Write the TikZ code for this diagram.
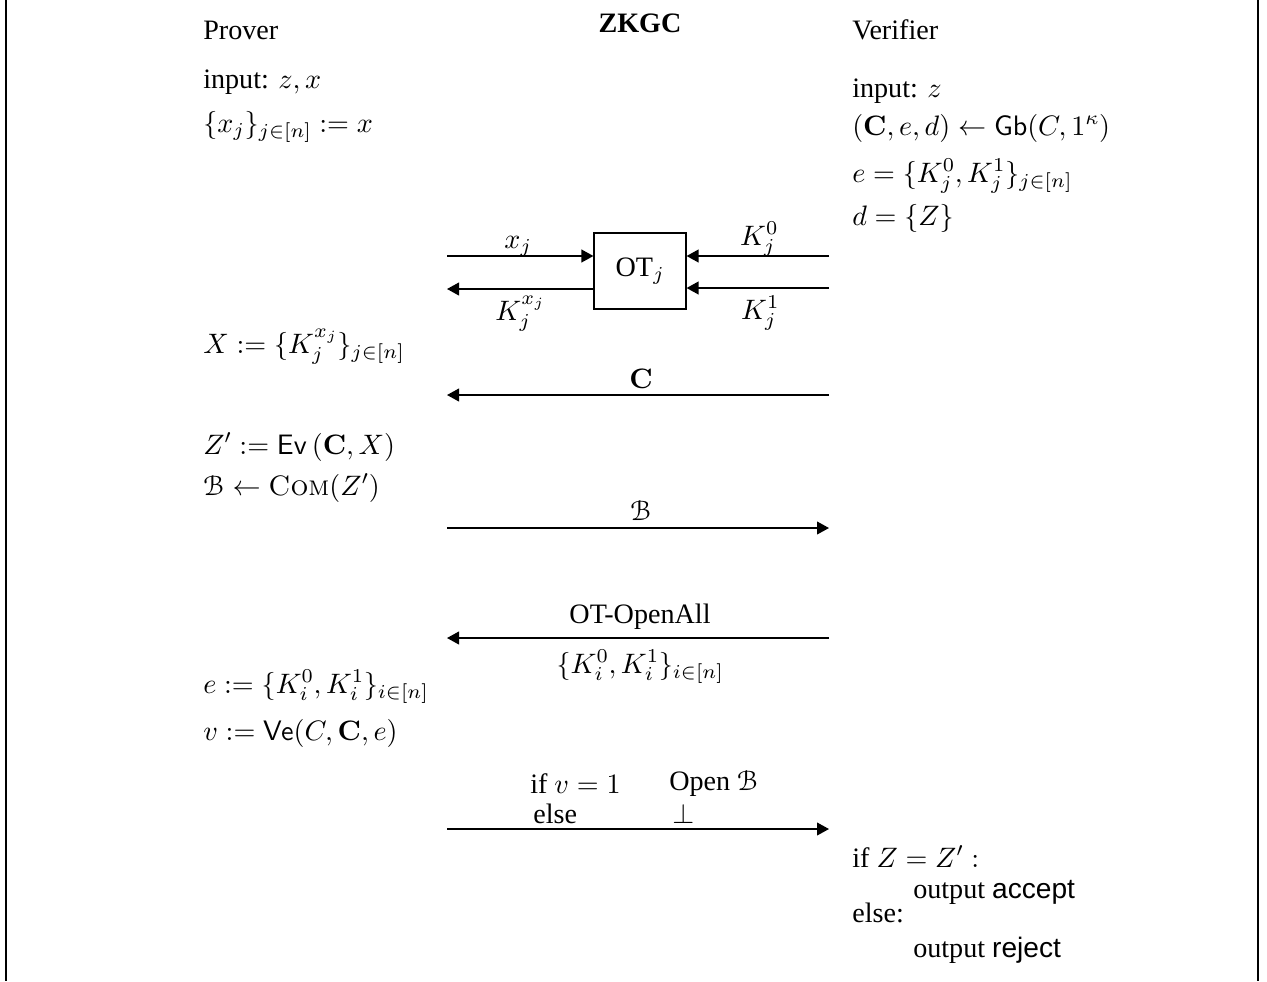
\documentclass[tikz,border=0pt]{standalone}
\usepackage{amsmath}
\usepackage{eucal}
\usepackage[no-math]{fontspec}
\setmainfont{Liberation Serif}
\newfontfamily\helv{Liberation Sans}
\usetikzlibrary{arrows.meta}
\DeclareFontShape{OT1}{cmr}{m}{n}{<-11> cmr5 <11-17> cmr7 <17-> cmr10}{}
\DeclareFontShape{OT1}{cmr}{bx}{n}{<-11> cmbx5 <11-17> cmbx7 <17-> cmbx10}{}
\DeclareFontShape{OT1}{cmr}{m}{sc}{<-> cmcsc10}{}
\DeclareFontShape{OML}{cmm}{m}{it}{<-11> cmmi5 <11-17> cmmi7 <17-> cmmi10}{}
\DeclareFontShape{OMS}{cmsy}{m}{n}{<-11> cmsy5 <11-17> cmsy7 <17-> cmsy10}{}
\DeclareFontShape{OT1}{cmss}{m}{n}{<-17> cmss8 <17-> cmss10}{}
\DeclareFontShape{OMX}{cmex}{m}{n}{<-> cmex10}{}
\DeclareMathSizes{20}{20}{14}{10}
\newcommand{\cmsc}[1]{\text{\fontencoding{OT1}\fontfamily{cmr}\fontseries{m}\fontshape{sc}\selectfont #1}}
\begin{document}
\begin{tikzpicture}[x=0.025cm,y=-0.025cm,
  every node/.style={font=\fontsize{20}{24}\selectfont, inner sep=0pt},
  txt/.style={anchor=base west},
  lbl/.style={anchor=base},
  msg/.style={line width=1.1pt, -{Triangle[length=0.3cm,width=0.32cm]}},
  otbox/.style={draw, line width=0.8pt, minimum width=2.3cm, minimum height=1.9cm},
  frame/.style={line width=0.8pt}]
\useasboundingbox (0,0) rectangle (1267,981);
\coordinate (fl1) at (6,0); \coordinate (fl2) at (6,981);
\coordinate (fr1) at (1258,0); \coordinate (fr2) at (1258,981);
\draw[frame] (fl1) -- (fl2);
\draw[frame] (fr1) -- (fr2);

% headers
\node[lbl] (zkgc) at (640,32) {\textbf{ZKGC}};
\node[txt] (prover) at (203,39) {Prover};
\node[txt] (verifier) at (852,39) {Verifier};

% prover start
\node[txt] (pin) at (203,88) {input: $z,x$};
\node[txt] (pxj) at (203,132) {$\{x_j\}_{j\in[n]} := x$};

% verifier start
\node[txt] (vin) at (852,97) {input: $z$};
\node[txt] (vgb) at (852,135) {$(\mathbf{C},e,d) \leftarrow \mathsf{Gb}(C,1^\kappa)$};
\node[txt] (ve) at (852,182) {$e = \{K_j^0,K_j^1\}_{j\in[n]}$};
\node[txt] (vd) at (852,225) {$d = \{Z\}$};

% OT
\node[otbox] (ot) at (640,271) {OT$_j$};
\coordinate (a1) at (447,256);
\coordinate (a2) at (447,289);
\coordinate (b1) at (829,256);
\coordinate (b2) at (829,288);
\draw[msg] (a1) -- (a1 -| ot.west);
\draw[msg] (a2 -| ot.west) -- (a2);
\draw[msg] (b1) -- (b1 -| ot.east);
\draw[msg] (b2) -- (b2 -| ot.east);
\node[lbl] (lxj) at (518,248) {$x_j$};
\node[lbl] (lkx) at (520,320) {$K_j^{x_j}$};
\node[lbl] (lk0) at (759,245) {$K_j^0$};
\node[lbl] (lk1) at (760,319) {$K_j^1$};

\node[txt] (px) at (203,353) {$X := \{K_j^{x_j}\}_{j\in[n]}$};

% C
\coordinate (c1) at (829,395);
\coordinate (c2) at (447,395);
\draw[msg] (c1) -- (c2);
\node[lbl] (lc) at (641,388) {$\mathbf{C}$};

\node[txt] (pz) at (203,454) {$Z' := \mathsf{Ev}\,(\mathbf{C},X)$};
\node[txt] (pb) at (203,495) {$\mathcal{B} \leftarrow \cmsc{Com}(Z')$};

% B
\coordinate (d1) at (447,528);
\coordinate (d2) at (829,528);
\draw[msg] (d1) -- (d2);
\node[lbl] (lb) at (641,520) {$\mathcal{B}$};

% OT-OpenAll
\coordinate (e1) at (829,638);
\coordinate (e2) at (447,638);
\draw[msg] (e1) -- (e2);
\node[lbl] (lopen) at (640,623) {OT-OpenAll};
\node[lbl] (lkk) at (640,673) {$\{K_i^0,K_i^1\}_{i\in[n]}$};

\node[txt] (pe) at (203,693) {$e := \{K_i^0,K_i^1\}_{i\in[n]}$};
\node[txt] (pv) at (203,740) {$v := \mathsf{Ve}(C,\mathbf{C},e)$};

% final message
\coordinate (f1) at (447,829);
\coordinate (f2) at (829,829);
\draw[msg] (f1) -- (f2);
\node[txt] (lif) at (530,793) {if $v=1$};
\node[txt] (lelse) at (533,823) {else};
\node[txt] (lopb) at (669,790) {Open $\mathcal{B}$};
\node[txt] (lbot) at (672,823) {$\bot$};

% verifier decision
\node[txt] (vif) at (852,867) {if $Z = Z' :$};
\node[txt] (vacc) at (913,898) {output {\helv accept}};
\node[txt] (velse) at (852,922) {else:};
\node[txt] (vrej) at (913,957) {output {\helv reject}};
\end{tikzpicture}
\end{document}
